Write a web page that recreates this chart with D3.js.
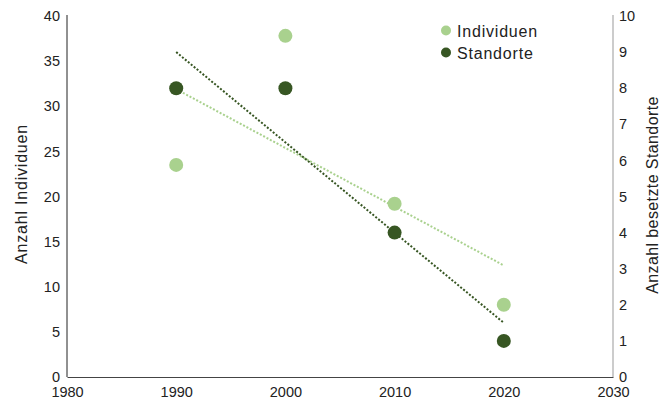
<!DOCTYPE html>
<html>
<head>
<meta charset="utf-8">
<script src="https://cdn.jsdelivr.net/npm/d3@7"></script>
<style>
  body { margin: 0; background: #fff; }
  text { font-family: "Liberation Sans", Arial, sans-serif; fill: #222; }
</style>
</head>
<body>
<div id="chart"></div>
<script>
// data
const years = [1990, 2000, 2010, 2020];
const individuen = [23.5, 37.8, 19.2, 8];
const standorte = [8, 8, 4, 1];
const xTicks = [1980, 1990, 2000, 2010, 2020, 2030];
const leftTicks = [0, 5, 10, 15, 20, 25, 30, 35, 40];
const rightTicks = [0, 1, 2, 3, 4, 5, 6, 7, 8, 9, 10];

const lightGreen = "#a9d18e";
const darkGreen = "#375623";

let svg = d3.select("#chart")
    .append("svg")
    .attr("width", 670)
    .attr("height", 402);

let x = d3.scaleLinear().domain([1980, 2030]).range([67, 613]);
let yLeft = d3.scaleLinear().domain([0, 40]).range([377, 16]);
let yRight = d3.scaleLinear().domain([0, 10]).range([377, 16]);

// left axis
let left = svg.append("g")
    .attr("transform", "translate(67,0)")
    .call(d3.axisLeft(yLeft).tickValues(leftTicks).tickSize(0).tickPadding(7));
left.select(".domain").attr("stroke", "#222").attr("d", "M0,15V377");
left.selectAll("text").attr("font-size", "14.5px").attr("fill", "#222");

// right axis
let right = svg.append("g")
    .attr("transform", "translate(613,0)")
    .call(d3.axisRight(yRight).tickValues(rightTicks).tickSize(0).tickPadding(6));
right.select(".domain").attr("stroke", "#999").attr("d", "M0,15V377");
right.selectAll("text").attr("font-size", "14.5px").attr("fill", "#222");

// x axis
let bottom = svg.append("g")
    .attr("transform", "translate(0,377)")
    .call(d3.axisBottom(x).tickValues(xTicks).tickFormat(d3.format("d")).tickSize(0).tickPadding(10));
bottom.select(".domain").attr("stroke", "#444");
bottom.selectAll("text").attr("font-size", "14.5px").attr("fill", "#222");

// axis titles
svg.append("text")
    .attr("transform", "translate(27,194) rotate(-90)")
    .attr("text-anchor", "middle")
    .attr("font-size", "16px")
    .attr("letter-spacing", "0.8px")
    .text("Anzahl Individuen");

svg.append("text")
    .attr("transform", "translate(658,195) rotate(-90)")
    .attr("text-anchor", "middle")
    .attr("font-size", "16px")
    .attr("letter-spacing", "0.4px")
    .text("Anzahl besetzte Standorte");

// linear trend from the points
function trend(xs, ys) {
    let mx = d3.mean(xs), my = d3.mean(ys);
    let num = d3.sum(xs, (v, i) => (v - mx) * (ys[i] - my));
    let den = d3.sum(xs, v => (v - mx) * (v - mx));
    let b = num / den;
    return v => my + b * (v - mx);
}

let tI = trend(years, individuen);
let tS = trend(years, standorte);
let x0 = years[0], x1 = years[years.length - 1];

svg.append("line")
    .attr("x1", x(x0)).attr("y1", yLeft(tI(x0)))
    .attr("x2", x(x1)).attr("y2", yLeft(tI(x1)))
    .attr("stroke", lightGreen)
    .attr("stroke-width", 2)
    .attr("stroke-dasharray", "2,1.8");

svg.append("line")
    .attr("x1", x(x0)).attr("y1", yRight(tS(x0)))
    .attr("x2", x(x1)).attr("y2", yRight(tS(x1)))
    .attr("stroke", darkGreen)
    .attr("stroke-width", 2)
    .attr("stroke-dasharray", "2,1.8");

// points
svg.selectAll(".pi")
    .data(years)
    .enter()
    .append("circle")
    .attr("class", "pi")
    .attr("cx", d => x(d))
    .attr("cy", (d, i) => yLeft(individuen[i]))
    .attr("r", 7)
    .attr("fill", lightGreen);

svg.selectAll(".ps")
    .data(years)
    .enter()
    .append("circle")
    .attr("class", "ps")
    .attr("cx", d => x(d))
    .attr("cy", (d, i) => yRight(standorte[i]))
    .attr("r", 7)
    .attr("fill", darkGreen);

// legend
let legend = [["Individuen", lightGreen], ["Standorte", darkGreen]];
legend.forEach((l, i) => {
    svg.append("circle")
        .attr("cx", 446)
        .attr("cy", 30.5 + i * 22)
        .attr("r", 5)
        .attr("fill", l[1]);
    svg.append("text")
        .attr("x", 457)
        .attr("y", 36.5 + i * 22)
        .attr("font-size", "16px")
        .attr("letter-spacing", "0.8px")
        .text(l[0]);
});
</script>
</body>
</html>
